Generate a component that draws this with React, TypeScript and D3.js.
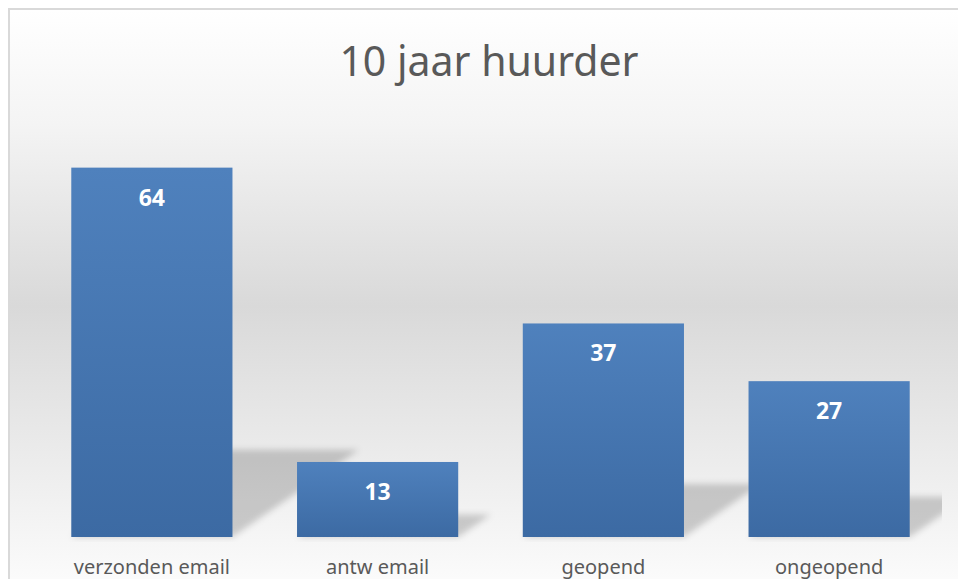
import React from 'react';
import * as d3 from 'd3';

// chart data
const title = '10 jaar huurder';
const categories = ['verzonden email', 'antw email', 'geopend', 'ongeopend'];
const values = [64, 13, 37, 27];

const W = 958;
const H = 579;
const plot = { left: 39, right: 942, top: 133, bottom: 537 };
const font = "'Noto Sans', 'Open Sans', sans-serif";

export default function App() {
  const x = d3
    .scaleBand<string>()
    .domain(categories)
    .range([plot.left, plot.right])
    .paddingInner(0.286)
    .paddingOuter(0.143);

  const y = d3.scaleLinear().domain([0, 70]).range([plot.bottom, plot.top]);

  // perspective shadow behind each bar
  const shadowPath = (v: number, cat: string) => {
    const x0 = x(cat)!;
    const x1 = x0 + x.bandwidth();
    const base = y(0);
    const sh = (base - y(v)) * 0.22 + 6;
    const dx = sh * 1.45;
    const p = d3.path();
    p.moveTo(x0, base);
    p.lineTo(x1, base);
    p.lineTo(x1 + dx, base - sh);
    p.lineTo(x0 + dx, base - sh);
    p.closePath();
    return p.toString();
  };

  return (
    <svg
      width={W}
      height={H}
      style={{ position: 'absolute', left: 0, top: 0, display: 'block' }}
    >
      <defs>
        <linearGradient id="bg" gradientUnits="userSpaceOnUse" x1="0" y1="10" x2="0" y2="579">
          <stop offset="0" stopColor="#ffffff" />
          <stop offset="0.2" stopColor="#f4f4f4" />
          <stop offset="0.52" stopColor="#d9d9d9" />
          <stop offset="0.85" stopColor="#f0f0f0" />
          <stop offset="1" stopColor="#fbfbfb" />
        </linearGradient>
        <linearGradient id="bar" x1="0" y1="0" x2="0" y2="1">
          <stop offset="0" stopColor="#4f81bd" />
          <stop offset="1" stopColor="#3c6aa3" />
        </linearGradient>
        <filter id="blur" x="-20%" y="-50%" width="140%" height="200%">
          <feGaussianBlur stdDeviation="3" />
        </filter>
        <clipPath id="plotClip">
          <rect x={plot.left} y={plot.top - 20} width={plot.right - plot.left} height={plot.bottom - plot.top + 25} />
        </clipPath>
      </defs>

      <rect x={9} y={9} width={W + 20} height={H + 20} fill="url(#bg)" stroke="#d9d9d9" strokeWidth={2} />

      <text x={489} y={76} textAnchor="middle" fontFamily={font} fontSize={41} fill="#595959">
        {title}
      </text>

      <g clipPath="url(#plotClip)">
        {categories.map((c, i) => (
          <path key={c} d={shadowPath(values[i], c)} fill="#000" fillOpacity={0.18} filter="url(#blur)" />
        ))}
      </g>

      {categories.map((c, i) => (
        <g key={c}>
          <rect
            x={x(c)}
            y={y(values[i])}
            width={x.bandwidth()}
            height={y(0) - y(values[i])}
            fill="url(#bar)"
          />
          <text
            x={x(c)! + x.bandwidth() / 2}
            y={y(values[i]) + 38}
            textAnchor="middle"
            fontFamily={font}
            fontWeight="bold"
            fontSize={23}
            fill="#ffffff"
          >
            {values[i]}
          </text>
          <text
            x={x(c)! + x.bandwidth() / 2}
            y={574}
            textAnchor="middle"
            fontFamily={font}
            fontSize={20}
            fill="#595959"
          >
            {c}
          </text>
        </g>
      ))}
    </svg>
  );
}
